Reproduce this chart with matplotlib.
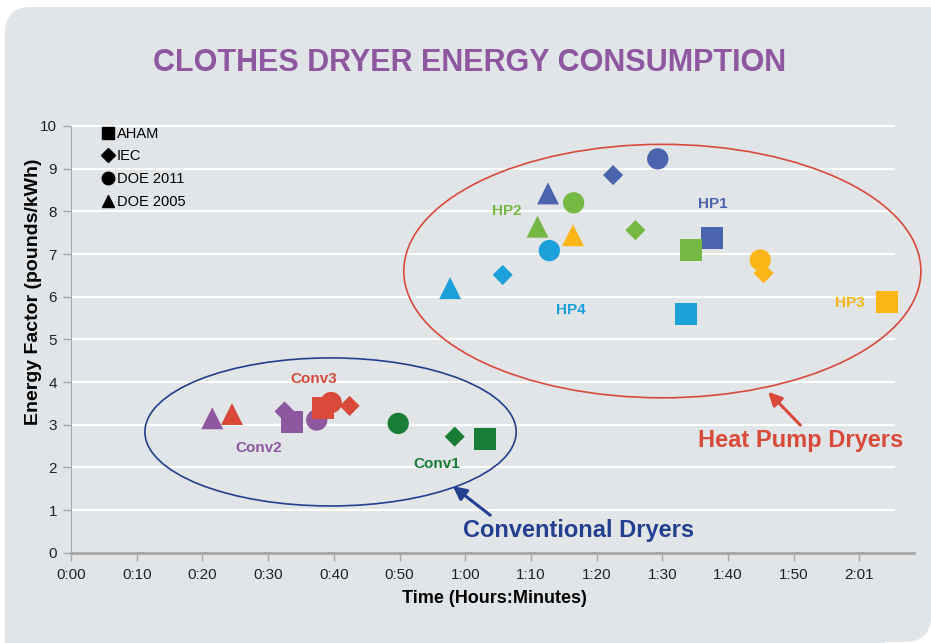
import matplotlib.pyplot as plt
from matplotlib.lines import Line2D
from matplotlib.patches import Ellipse, FancyBboxPatch, Rectangle

# time in minutes, energy factor in pounds/kWh
# order of each list: AHAM, IEC, DOE 2011, DOE 2005
conv2_t = [33.6, 32.5, 37.4, 21.5]
conv2_ef = [3.07, 3.31, 3.11, 3.15]
conv3_t = [38.3, 42.4, 39.6, 24.5]
conv3_ef = [3.38, 3.44, 3.52, 3.25]
conv1_t = [63.0, 58.4, 49.8]
conv1_ef = [2.66, 2.72, 3.03]
hp1_t = [97.6, 82.5, 89.3, 72.6]
hp1_ef = [7.37, 8.85, 9.23, 8.42]
hp2_t = [94.4, 85.9, 76.5, 71.0]
hp2_ef = [7.09, 7.56, 8.20, 7.64]
hp3_t = [124.2, 105.4, 104.9, 76.4]
hp3_ef = [5.87, 6.55, 6.86, 7.44]
hp4_t = [93.6, 65.7, 72.8, 57.7]
hp4_ef = [5.59, 6.51, 7.08, 6.20]

test_names = ['AHAM', 'IEC', 'DOE 2011', 'DOE 2005']
x_ticks = [0, 10, 20, 30, 40, 50, 60, 70, 80, 90, 100, 110, 120]
x_labels = ['0:00', '0:10', '0:20', '0:30', '0:40', '0:50', '1:00', '1:10',
            '1:20', '1:30', '1:40', '1:50', '2:01']

markers = ['s', 'D', 'o', '^']
sizes = [250, 105, 235, 250]
draw_order = [1, 2, 0, 3]

series = [
    ('Conv2', conv2_t, conv2_ef, '#8e57a0', (28.6, 2.45)),
    ('Conv3', conv3_t, conv3_ef, '#d94a3a', (37.0, 4.07)),
    ('Conv1', conv1_t, conv1_ef, '#1a7d36', (55.6, 2.08)),
    ('HP1', hp1_t, hp1_ef, '#4a65ad', (97.7, 8.17)),
    ('HP2', hp2_t, hp2_ef, '#76b844', (66.4, 8.01)),
    ('HP3', hp3_t, hp3_ef, '#fbb517', (118.6, 5.85)),
    ('HP4', hp4_t, hp4_ef, '#1ba0da', (76.1, 5.69)),
]

sans = 'Liberation Sans'
bg = '#e1e5e8'
fig = plt.figure(figsize=(9.31, 6.43), dpi=100)
fig.patch.set_facecolor('white')

# rounded panel, given in pixels from the top-left corner
W, H = 931, 643
def fx(px):
    return px / W
def fy(py):
    return 1 - py / H

panel = FancyBboxPatch((fx(5), fy(642)), fx(926), 635 / H,
                       boxstyle='round,pad=0,rounding_size=0.028',
                       transform=fig.transFigure, fc=bg, ec='none', zorder=-2,
                       mutation_aspect=W / H)
fig.patches.append(panel)
fig.patches.append(Rectangle((fx(500), fy(300)), fx(431), 293 / H,
                             transform=fig.transFigure, fc=bg, ec='none', zorder=-2))
fig.patches.append(Rectangle((fx(5), 0), fx(880), fy(400),
                             transform=fig.transFigure, fc=bg, ec='none', zorder=-2))

ax = fig.add_axes([fx(71), fy(552.7), fx(914 - 71), (552.7 - 126) / H])
ax.set_facecolor(bg)
ax.set_xlim(0, 128.3)
ax.set_ylim(0, 10)

for y in range(1, 11):
    ax.plot([0, 125.3], [y, y], color='white', lw=1.5, zorder=1, clip_on=False)

for name, t, ef, col, lab in series:
    for i in draw_order:
        if i < len(t):
            ax.scatter(t[i], ef[i], marker=markers[i], s=sizes[i], color=col,
                       edgecolors='none', zorder=3)
    ax.text(lab[0], lab[1], name, color=col, fontsize=11, fontweight='bold',
            ha='center', va='center', family=sans, zorder=4)

# ellipses around groups
ax.add_patch(Ellipse((39.5, 2.83), 56.5, 3.47, fill=False, ec='#233f8f',
                     lw=1.2, zorder=2))
ax.add_patch(Ellipse((90.0, 6.60), 78.7, 5.94, fill=False, ec='#d94a3a',
                     lw=1.2, zorder=2, clip_on=False))

ax.annotate('', xy=(106.1, 3.77), xytext=(111.0, 2.99),
            arrowprops=dict(arrowstyle='-|>', color='#d94a3a', lw=2.2,
                            mutation_scale=20, shrinkA=0, shrinkB=0))
ax.text(111.0, 2.62, 'Heat Pump Dryers', color='#d94a3a', fontsize=17,
        fontweight='heavy', ha='center', va='center', family=sans)
ax.annotate('', xy=(58.1, 1.56), xytext=(63.8, 0.88),
            arrowprops=dict(arrowstyle='-|>', color='#233f8f', lw=2.2,
                            mutation_scale=20, shrinkA=0, shrinkB=0))
ax.text(77.3, 0.53, 'Conventional Dryers', color='#233f8f', fontsize=17,
        fontweight='heavy', ha='center', va='center', family=sans)

# legend
handles = [Line2D([], [], marker=m, color='black', ls='none',
                  markersize=(7 if m == 'D' else 9))
           for m in markers]
ax.legend(handles, test_names, loc='upper left', bbox_to_anchor=(0.03, 1.012),
          frameon=False, handletextpad=0.2, labelspacing=0.6, handlelength=0.8,
          borderaxespad=0, prop={'family': sans, 'size': 10.5})

for s in ['top', 'right']:
    ax.spines[s].set_visible(False)
ax.spines['left'].set_color('#a6a6a6')
ax.spines['bottom'].set_color('#a6a6a6')
ax.spines['bottom'].set_linewidth(2)
ax.set_yticks(range(0, 11))
ax.set_xticks(x_ticks)
ax.set_xticklabels(x_labels)
ax.tick_params(axis='both', colors='#a6a6a6', labelcolor='#222222',
               labelsize=11, length=6, width=1)
ax.tick_params(axis='x', pad=5)
ax.tick_params(axis='y', pad=4)
for lbl in ax.get_xticklabels() + ax.get_yticklabels():
    lbl.set_family(sans)

ax.set_xlabel('Time (Hours:Minutes)', fontsize=13, fontweight='bold',
              family=sans)
ax.xaxis.set_label_coords((494 - 71) / 843, -(590 - 552.7) / 426.7)
ax.set_ylabel('Energy Factor (pounds/kWh)', fontsize=14, fontweight='bold',
              family=sans)
ax.yaxis.set_label_coords(-(71 - 42) / 843, (552.7 - 292) / 426.7)

fig.text(fx(470), fy(63), 'CLOTHES DRYER ENERGY CONSUMPTION', color='#8e57a0',
         fontsize=22, fontweight='heavy', ha='center', va='center',
         family=sans)

fig.savefig('out.png', dpi=100, facecolor=fig.get_facecolor())
